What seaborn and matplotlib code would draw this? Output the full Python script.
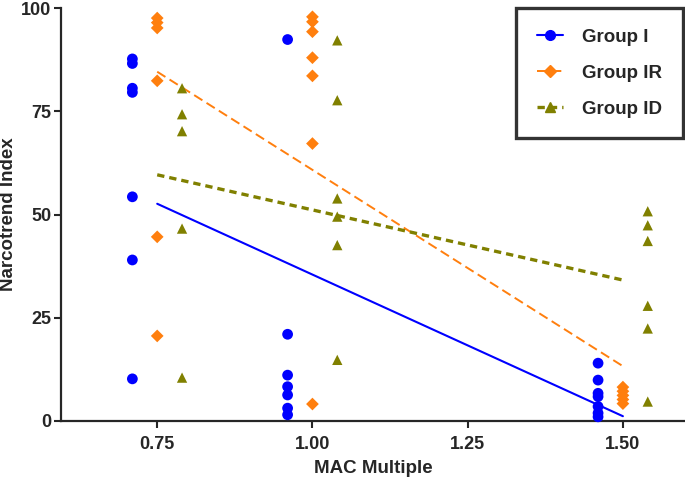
import numpy as np
import matplotlib
matplotlib.use('Agg')
import matplotlib.pyplot as plt
import pandas as pd
import seaborn as sns
from matplotlib.lines import Line2D

sns.set_style('ticks')
plt.rcParams['font.family'] = ['Liberation Sans', 'DejaVu Sans']
plt.rcParams['font.weight'] = 'bold'

# MAC multiple levels for each group
mac_levels = [0.75, 1.00, 1.50]
groups = ['Group I', 'Group IR', 'Group ID']

# Narcotrend index readings per MAC level
grp_i = [
    [87.7, 86.6, 80.6, 79.6, 54.3, 39.0, 10.2],
    [92.4, 21.0, 11.1, 8.3, 6.3, 3.1, 1.5],
    [14.0, 9.9, 6.7, 5.9, 3.5, 1.9, 1.0],
]
grp_ir = [
    [97.6, 96.5, 95.2, 82.4, 44.6, 20.6],
    [97.9, 96.7, 94.3, 88.0, 83.6, 67.2, 4.1],
    [8.2, 7.2, 6.2, 5.2, 4.2],
]
grp_id = [
    [80.6, 74.3, 70.2, 46.6, 10.5],
    [92.2, 77.7, 53.9, 49.5, 42.6, 14.8],
    [50.8, 47.4, 43.6, 27.9, 22.4, 4.7],
]

rows = []
for g, vals in zip(groups, [grp_i, grp_ir, grp_id]):
    for m, ys in zip(mac_levels, vals):
        for y in ys:
            rows.append({'group': g, 'mac': m, 'nti': y})
df = pd.DataFrame(rows)

colors = {'Group I': '#0000ff', 'Group IR': '#ff7f0e', 'Group ID': '#808000'}
markers = {'Group I': 'o', 'Group IR': 'D', 'Group ID': '^'}
shift = {'Group I': -0.04, 'Group IR': 0.0, 'Group ID': 0.04}  # side-by-side display
lstyle = {'Group I': dict(ls='-', lw=1.5),
          'Group IR': dict(ls=(0, (5, 2.5)), lw=1.4),
          'Group ID': dict(ls=(0, (2.2, 1.5)), lw=2.4)}
msize = {'Group I': 60, 'Group IR': 42, 'Group ID': 55}

fig = plt.figure(figsize=(6.85, 4.8), dpi=100)
ax = fig.add_axes([0.089, 0.123, 0.911, 0.86])

for g in groups:
    sub = df[df['group'] == g]
    sns.regplot(data=sub, x='mac', y='nti', ax=ax, scatter=False, ci=None,
                color=colors[g], line_kws=dict(**lstyle[g]), truncate=True)
    sns.scatterplot(x=sub['mac'] + shift[g], y=sub['nti'], ax=ax, color=colors[g],
                    marker=markers[g], s=msize[g], edgecolor='none', clip_on=False,
                    zorder=3)

ax.set_xlim(0.595, 1.6)
ax.set_ylim(0, 100)
ax.set_xticks([0.75, 1.00, 1.25, 1.50])
ax.set_xticklabels(['0.75', '1.00', '1.25', '1.50'])
ax.set_yticks([0, 25, 50, 75, 100])
ax.tick_params(labelsize=13, width=1.5, length=5, pad=2)
ax.tick_params(axis='x', pad=6)
for lab in ax.get_xticklabels() + ax.get_yticklabels():
    lab.set_fontweight('bold')
ax.set_xlabel('MAC Multiple', fontsize=13.5, fontweight='bold')
ax.set_ylabel('Narcotrend Index', fontsize=13.5, fontweight='bold')
ax.xaxis.set_label_coords(0.5, -0.095)
ax.yaxis.set_label_coords(-0.071, 0.5)
sns.despine(ax=ax)
for sp in ['left', 'bottom']:
    ax.spines[sp].set_linewidth(1.6)

handles = [Line2D([0], [0], color=colors[g], marker=markers[g],
                  markersize=7 if g != 'Group IR' else 6, **lstyle[g])
           for g in groups]
leg = ax.legend(handles, groups, loc='upper right', bbox_to_anchor=(0.996, 1.0),
                borderaxespad=0, frameon=True, fancybox=False, handlelength=1.4,
                handletextpad=1.0, borderpad=1.1, labelspacing=1.0,
                prop=dict(size=13.5, weight='bold'))
leg.get_frame().set_edgecolor('black')
leg.get_frame().set_linewidth(2.4)

fig.savefig('out.png', dpi=100)
